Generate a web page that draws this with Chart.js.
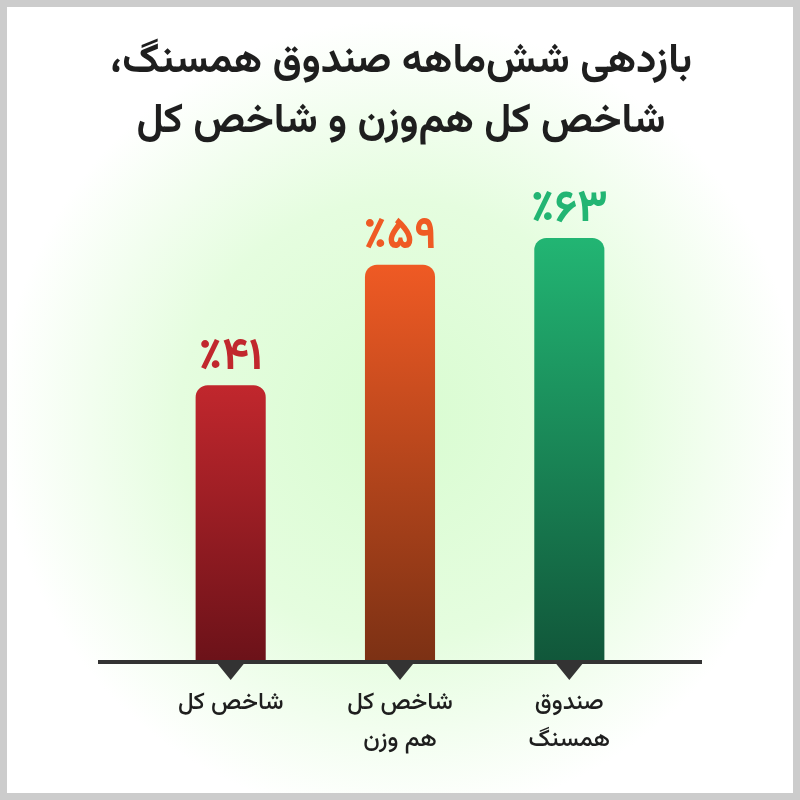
<!DOCTYPE html>
<html>
<head>
<meta charset="utf-8">
<script src="https://cdn.jsdelivr.net/npm/chart.js@4"></script>
<style>
html,body{margin:0;padding:0;background:#fff;}
#wrap{width:800px;height:800px;position:relative;}
</style>
</head>
<body>
<div id="wrap"><canvas id="c" width="800" height="800"></canvas></div>
<script>
const titleLines = ["بازدهی شش\u200Cماهه صندوق همسنگ،", "شاخص کل هم\u200Cوزن و شاخص کل"];
const categories = [["شاخص کل"], ["شاخص کل", "هم وزن"], ["صندوق", "همسنگ"]];
const returnsPct = [41, 59, 63];
const topColors = ["#c1272d", "#ef5a24", "#22b573"];
const bottomColors = ["#6c1219", "#7c3114", "#11573a"];
const yMax = 70;

const FONT = "'Vazirmatn','Noto Sans Arabic','DejaVu Sans',sans-serif";
const faDigits = s => String(s).replace(/[0-9]/g, d => "۰۱۲۳۴۵۶۷۸۹"[d]);

const decorPlugin = {
  id: 'decor',
  beforeDraw(chart) {
    const ctx = chart.ctx, W = chart.width, H = chart.height;
    ctx.save();
    ctx.fillStyle = '#ffffff';
    ctx.fillRect(0, 0, W, H);
    const g = ctx.createRadialGradient(400, 420, 0, 400, 420, 400);
    g.addColorStop(0, '#d9fcd1');
    g.addColorStop(0.55, '#e5fddf');
    g.addColorStop(1, 'rgba(255,255,255,1)');
    ctx.fillStyle = g;
    ctx.fillRect(0, 0, W, H);
    // frame
    ctx.strokeStyle = '#cccccc';
    ctx.lineWidth = 7;
    ctx.strokeRect(3.5, 3.5, W - 7, H - 7);
    // title
    ctx.fillStyle = '#1e1e1e';
    ctx.direction = 'rtl';
    ctx.textAlign = 'center';
    ctx.textBaseline = 'alphabetic';
    ctx.font = "bold 41px " + FONT;
    ctx.fillText(titleLines[0], 401, 72);
    ctx.fillText(titleLines[1], 401, 132);
    ctx.restore();
  },
  afterDatasetsDraw(chart) {
    const ctx = chart.ctx;
    const xs = chart.scales.x, ys = chart.scales.y;
    const base = chart.chartArea.bottom;
    ctx.save();
    // axis line
    ctx.fillStyle = '#333333';
    ctx.fillRect(98, base, 604, 4);
    const meta = chart.getDatasetMeta(0);
    meta.data.forEach((bar, i) => {
      const cx = xs.getPixelForValue(i);
      // triangle marker
      ctx.fillStyle = '#333333';
      ctx.beginPath();
      ctx.moveTo(cx - 13, base + 4);
      ctx.lineTo(cx + 13, base + 4);
      ctx.lineTo(cx, base + 20);
      ctx.closePath();
      ctx.fill();
      // value label
      const top = ys.getPixelForValue(returnsPct[i]);
      ctx.direction = 'ltr';
      ctx.textAlign = 'center';
      ctx.textBaseline = 'bottom';
      ctx.font = "bold 45px " + FONT;
      ctx.fillStyle = topColors[i];
      ctx.fillText("٪" + faDigits(returnsPct[i]), cx, top - 1);
      // category labels
      ctx.direction = 'rtl';
      ctx.textBaseline = 'middle';
      ctx.font = "500 24px " + FONT;
      ctx.fillStyle = '#1e1e1e';
      categories[i].forEach((ln, k) => ctx.fillText(ln, cx, base + 45 + k * 37));
    });
    ctx.restore();
  }
};

new Chart(document.getElementById('c'), {
  type: 'bar',
  data: {
    labels: categories.map(c => c.join(' ')),
    datasets: [{
      data: returnsPct,
      backgroundColor: (ctx) => {
        const chart = ctx.chart;
        const ca = chart.chartArea;
        if (!ca) return topColors[ctx.dataIndex];
        const i = ctx.dataIndex;
        const top = chart.scales.y.getPixelForValue(returnsPct[i]);
        const g = chart.ctx.createLinearGradient(0, top, 0, ca.bottom);
        g.addColorStop(0, topColors[i]);
        g.addColorStop(1, bottomColors[i]);
        return g;
      },
      borderRadius: 12,
      borderSkipped: 'bottom',
      barPercentage: 0.414,
      categoryPercentage: 1
    }]
  },
  options: {
    responsive: false,
    animation: false,
    devicePixelRatio: 1,
    layout: { padding: { left: 146, right: 146, top: 191, bottom: 140 } },
    plugins: { legend: { display: false }, title: { display: false }, tooltip: { enabled: false } },
    scales: {
      x: { display: false },
      y: { display: false, min: 0, max: yMax }
    }
  },
  plugins: [decorPlugin]
});
</script>
</body>
</html>
